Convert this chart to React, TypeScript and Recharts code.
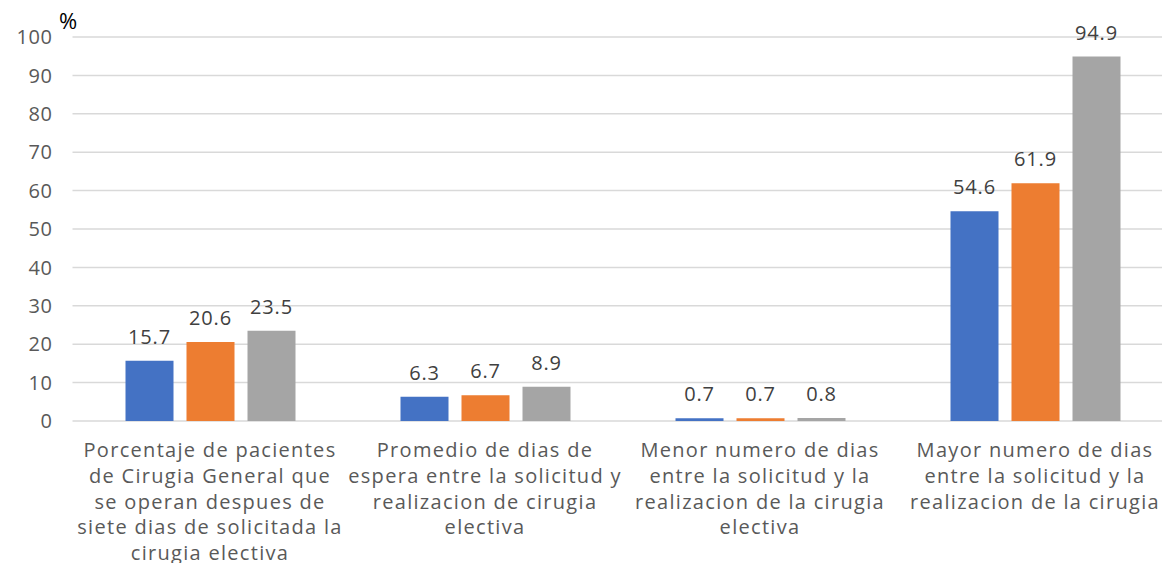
import React from 'react';
import { BarChart, Bar, XAxis, YAxis, CartesianGrid, LabelList } from 'recharts';

const categoryLines: string[][] = [
  ['Porcentaje de pacientes', 'de Cirugia General que', 'se operan despues de', 'siete dias de solicitada la', 'cirugia electiva'],
  ['Promedio de dias de', 'espera entre la solicitud y', 'realizacion de cirugia', 'electiva'],
  ['Menor numero de dias', 'entre la solicitud y la', 'realizacion de la cirugia', 'electiva'],
  ['Mayor numero de dias', 'entre la solicitud y la', 'realizacion de la cirugia'],
];
const seriesA = [15.7, 6.3, 0.7, 54.6];
const seriesB = [20.6, 6.7, 0.7, 61.9];
const seriesC = [23.5, 8.9, 0.8, 94.9];
const yTicks = [0, 10, 20, 30, 40, 50, 60, 70, 80, 90, 100];

const data = categoryLines.map((lines, i) => ({
  name: lines.join(' '),
  idx: i,
  a: seriesA[i],
  b: seriesB[i],
  c: seriesC[i],
}));

const FONT = '"Open Sans", sans-serif';

const XTick = (props: any) => {
  const { x, y, payload } = props;
  const lines = categoryLines[payload.index] || [];
  return (
    <g transform={`translate(${x},${y})`}>
      {lines.map((l, i) => (
        <text key={i} x={0} y={0} dy={28 + i * 25.8} textAnchor="middle" fill="#595959" fontSize={20} letterSpacing={1.3} fontFamily={FONT}>
          {l}
        </text>
      ))}
    </g>
  );
};

const fmt = (v: any) => Number(v).toFixed(1);

const labelProps = { position: 'top' as const, offset: 17, formatter: fmt, fill: '#404040', fontSize: 20, letterSpacing: 0.8, fontFamily: FONT };

export default function App() {
  return (
    <div style={{ position: 'absolute', left: 0, top: 0, width: 1162, height: 563, overflow: 'hidden', background: '#fff' }}>
      <BarChart
        width={1175}
        height={563}
        data={data}
        margin={{ top: 37, right: 2.5, left: 12.5, bottom: 0 }}
        barSize={48}
        barGap={13}
      >
        <CartesianGrid vertical={false} stroke="#d9d9d9" strokeWidth={1.5} />
        <XAxis
          dataKey="name"
          axisLine={false}
          tickLine={false}
          height={142}
          interval={0}
          tick={<XTick />}
        />
        <YAxis
          width={60}
          domain={[0, 100]}
          ticks={yTicks}
          axisLine={false}
          tickLine={false}
          tickSize={0}
          tickMargin={20}
          tick={{ fill: '#595959', fontSize: 20, letterSpacing: 0.6, fontFamily: FONT }}
          label={{
            content: () => (
              <text x={59} y={29} fill="#000" fontSize={22} fontFamily={FONT}>%</text>
            ),
          }}
        />
        <Bar dataKey="a" fill="#4472C4" isAnimationActive={false}>
          <LabelList dataKey="a" {...labelProps} />
        </Bar>
        <Bar dataKey="b" fill="#ED7D31" isAnimationActive={false}>
          <LabelList dataKey="b" {...labelProps} />
        </Bar>
        <Bar dataKey="c" fill="#A5A5A5" isAnimationActive={false}>
          <LabelList dataKey="c" {...labelProps} />
        </Bar>
      </BarChart>
    </div>
  );
}
